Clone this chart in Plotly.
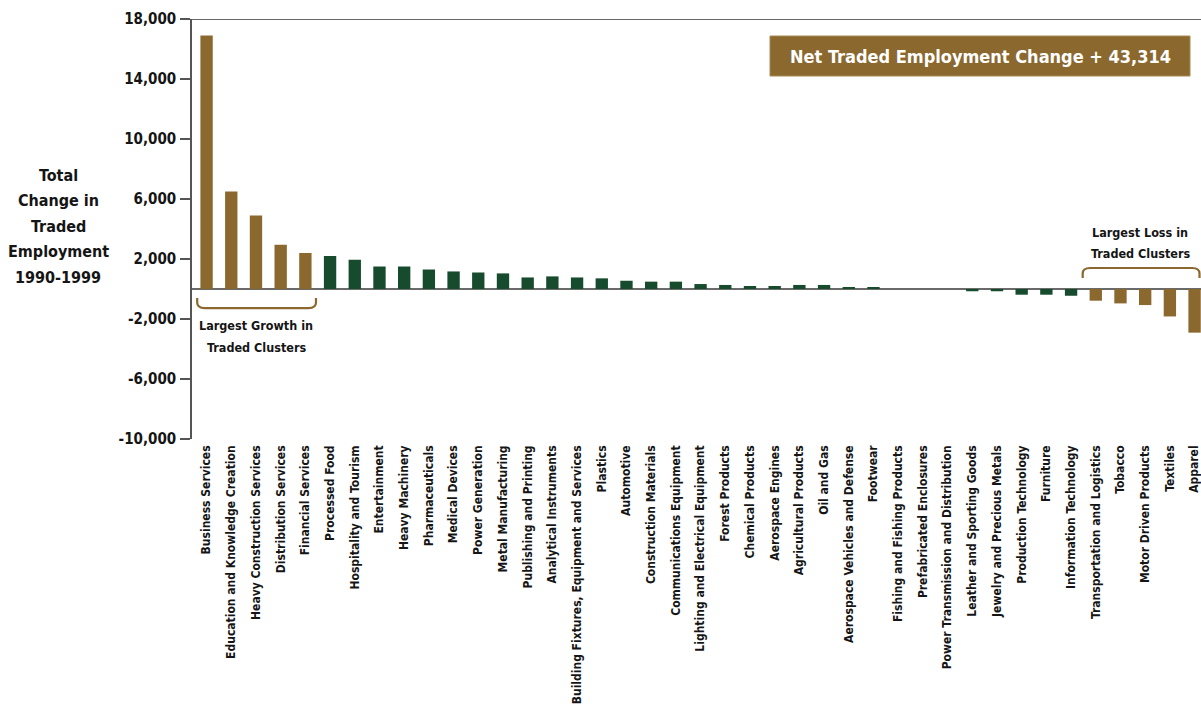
import plotly.graph_objects as go

# Traded cluster employment change, 1990-1999
categories = [
    "Business Services", "Education and Knowledge Creation", "Heavy Construction Services",
    "Distribution Services", "Financial Services", "Processed Food", "Hospitality and Tourism",
    "Entertainment", "Heavy Machinery", "Pharmaceuticals", "Medical Devices", "Power Generation",
    "Metal Manufacturing", "Publishing and Printing", "Analytical Instruments",
    "Building Fixtures, Equipment and Services", "Plastics", "Automotive",
    "Construction Materials", "Communications Equipment", "Lighting and Electrical Equipment",
    "Forest Products", "Chemical Products", "Aerospace Engines", "Agricultural Products",
    "Oil and Gas", "Aerospace Vehicles and Defense", "Footwear", "Fishing and Fishing Products",
    "Prefabricated Enclosures", "Power Transmission and Distribution",
    "Leather and Sporting Goods", "Jewelry and Precious Metals", "Production Technology",
    "Furniture", "Information Technology", "Transportation and Logistics", "Tobacco",
    "Motor Driven Products", "Textiles", "Apparel",
]
employment_change = [
    16900, 6500, 4900, 2950, 2400, 2200, 1950, 1500, 1500, 1300, 1170, 1100, 1040, 770,
    840, 770, 710, 550, 490, 490, 330, 270, 200, 200, 270, 270, 100, 100, 0, 0, 0,
    -150, -150, -380, -380, -450, -780, -960, -1070, -1830, -2910,
]
y_ticks = [-10000, -6000, -2000, 2000, 6000, 10000, 14000, 18000]
net_change = 43314
n_highlight = 5  # largest gainers / losers drawn in the accent colour

BROWN = "#8B682E"
GREEN = "#174B2E"
AXIS = "#555555"
TEXT = "#151515"
FONT = "DejaVu Sans Condensed, Liberation Sans, Arial, sans-serif"

W, H = 1201, 707
ML, MR, MT, MB = 192, 0, 19, 268
PW, PH = W - ML - MR, H - MT - MB


def px(xp):
    return (xp - ML) / PW


def py(yp):
    return 1 - (yp - MT) / PH


n = len(categories)
xs = list(range(n))
colors = [BROWN if (i < n_highlight or i >= n - n_highlight) else GREEN for i in xs]

fig = go.Figure(go.Bar(x=xs, y=employment_change, marker_color=colors, width=0.5,
                       marker_line_width=0))

fig.update_layout(
    width=W, height=H, margin=dict(l=ML, r=MR, t=MT, b=MB, pad=0, autoexpand=False),
    plot_bgcolor="white", paper_bgcolor="white", showlegend=False,
    font=dict(family=FONT, color=TEXT),
)
fig.update_xaxes(
    range=[-0.59, 40.26], tickmode="array", tickvals=xs, ticktext=categories,
    tickangle=-90, showline=False, showgrid=False, zeroline=False, ticks="",
    ticklabeloverflow="allow", automargin=False, ticklabelstandoff=3,
    tickfont=dict(family=FONT, size=12, color=TEXT, weight="bold"),
)
fig.update_yaxes(
    range=[-10000, 18000], tickmode="array", tickvals=y_ticks,
    ticktext=[f"{v:,}" for v in y_ticks], showgrid=False, automargin=False,
    showline=True, linecolor=AXIS, linewidth=1.5, ticks="outside", ticklen=10,
    tickcolor=AXIS, tickwidth=1.5, ticklabelstandoff=1,
    zeroline=True, zerolinecolor="#6a6a6a", zerolinewidth=1.5,
    tickfont=dict(family=FONT, size=15, color=TEXT, weight="bold"),
)

# top frame line
fig.add_shape(type="line", xref="paper", yref="y", x0=0, x1=1, y0=18000, y1=18000,
              line=dict(color="#333333", width=1.5))


def bracket(x0, x1, y_end, y_bar, r=0.3):
    ym = y_end + (y_bar - y_end) * 0.45
    return (f"M {x0},{y_end} L {x0},{ym} Q {x0},{y_bar} {x0 + r},{y_bar} "
            f"L {x1 - r},{y_bar} Q {x1},{y_bar} {x1},{ym} L {x1},{y_end}")


# growth bracket under the first five bars, loss bracket over the last five
fig.add_shape(type="path", xref="x", yref="y", path=bracket(-0.38, 4.43, -600, -1270),
              line=dict(color=BROWN, width=2.2))
fig.add_shape(type="path", xref="x", yref="y", path=bracket(35.47, 40.2, 730, 1400),
              line=dict(color=BROWN, width=2.2))


def text_lines(lines, xp, y_first, step, size):
    for k, line in enumerate(lines):
        fig.add_annotation(text=line, xref="paper", yref="paper", x=px(xp),
                           y=py(y_first + k * step), showarrow=False,
                           xanchor="center", yanchor="middle",
                           font=dict(family=FONT, size=size, color=TEXT, weight="bold"))


text_lines(["Total", "Change in", "Traded", "Employment", "1990-1999"], 58, 175, 25.5, 16)
text_lines(["Largest Growth in", "Traded Clusters"], 256, 325, 22, 12.5)
text_lines(["Largest Loss in", "Traded Clusters"], 1140, 232, 21, 12.5)

# net change box
fig.add_shape(type="rect", xref="paper", yref="paper", x0=px(770), x1=px(1190),
              y0=py(76), y1=py(36), fillcolor=BROWN, line=dict(color="#a88a55", width=1))
fig.add_annotation(text=f"Net Traded Employment Change + {net_change:,}", xref="paper",
                   yref="paper", x=px(980), y=py(56), showarrow=False,
                   xanchor="center", yanchor="middle",
                   font=dict(family=FONT, size=18, color="white", weight="bold"))

fig.write_html("out.html")
